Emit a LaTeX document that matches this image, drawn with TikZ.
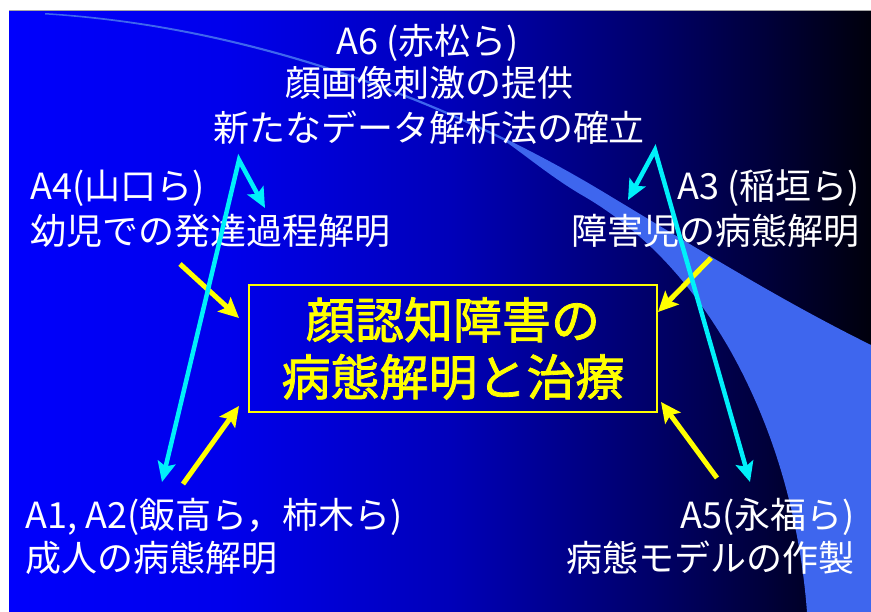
\documentclass[tikz,border=0pt]{standalone}
\usepackage{fontspec}
\setmainfont{Noto Sans CJK JP}
\newfontfamily\jpmed[FakeBold=1.6]{Noto Sans CJK JP}
\usetikzlibrary{arrows.meta,calc}
\definecolor{bg0}{RGB}{0,0,252}
\definecolor{bg1}{RGB}{0,0,235}
\definecolor{bg2}{RGB}{0,0,185}
\definecolor{bg3}{RGB}{0,0,105}
\definecolor{bg4}{RGB}{0,0,60}
\definecolor{bg5}{RGB}{0,0,12}
\definecolor{swooshc}{RGB}{62,102,238}
\definecolor{cyanc}{RGB}{0,240,250}
\definecolor{yellowc}{RGB}{255,255,0}
\pgfdeclarehorizontalshading{bgshade}{100bp}{color(0bp)=(bg0); color(25bp)=(bg0); color(37.8bp)=(bg1); color(50.6bp)=(bg2); color(62.2bp)=(bg3); color(68.6bp)=(bg4); color(75bp)=(bg5); color(100bp)=(bg5)}
\begin{document}
\begin{tikzpicture}[x=1pt,y=-1pt,
  txt/.style={text=white, inner sep=0pt, font=\fontsize{36}{44}\selectfont},
  yarrow/.style={draw=yellowc, line width=5pt, -{Stealth[length=20pt,width=19pt,inset=4pt]}},
  carrow/.style={draw=cyanc, line width=4.5pt, line join=miter,
    {Stealth[length=20pt,width=18pt,inset=4pt]}-{Stealth[length=20pt,width=18pt,inset=4pt]}},
  centerbox/.style={draw=yellowc, line width=1.5pt, minimum width=408pt, minimum height=127pt,
    text=yellowc, align=center, inner sep=0pt, font=\jpmed\fontsize{49}{57}\selectfont}]
\useasboundingbox (0,0) rectangle (871,612);
\fill[white] (0,0) rectangle (871,612);
\shade[shading=bgshade] (9,11) rectangle (871,612);
% swoosh
\fill[swooshc] (45,13) .. controls (250,25) and (450,100) .. (600,190)
  .. controls (700,250) and (780,300) .. (871,345)
  -- (871,612) -- (807,612)
  .. controls (800,520) and (775,430) .. (730,350)
  .. controls (690,280) and (640,228) .. (580,194)
  .. controls (550,176) and (525,155) .. (504,140.5)
  .. controls (370,75) and (209,24.8) .. (45,14.5) -- cycle;
\draw[gray!70, line width=1pt] (9,11) -- (871,11);
% center box
\node[centerbox] (box) at (453,348.5) {顔認知障害の\\病態解明と治療};
% text blocks
\node[txt, anchor=base] (a6a) at (428,55) {A6 (赤松ら)};
\node[txt, anchor=base] (a6b) at (429,97) {顔画像刺激の提供};
\node[txt, anchor=base] (a6c) at (429,142) {新たなデータ解析法の確立};
\node[txt, anchor=base west] (a4a) at (30,200) {A4(山口ら)};
\node[txt, anchor=base west] (a4b) at (30,245) {幼児での発達過程解明};
\node[txt, anchor=base east] (a3a) at (860,200) {A3 (稲垣ら)};
\node[txt, anchor=base east] (a3b) at (860,245) {障害児の病態解明};
\node[txt, anchor=base west] (a1a) at (25,529) {A1, A2(飯高ら，柿木ら)};
\node[txt, anchor=base west] (a1b) at (25,571) {成人の病態解明};
\node[txt, anchor=base east] (a5a) at (855,529) {A5(永福ら)};
\node[txt, anchor=base east] (a5b) at (855,571) {病態モデルの作製};
% yellow arrows
\coordinate (y1s) at (180,264); \coordinate (y1e) at (239,318);
\coordinate (y2s) at (183,484); \coordinate (y2e) at (239,406);
\coordinate (y3s) at (711,258); \coordinate (y3e) at (658,312);
\coordinate (y4s) at (717,478); \coordinate (y4e) at (661,402);
\draw[yarrow] (y1s) -- (y1e);
\draw[yarrow] (y2s) -- (y2e);
\draw[yarrow] (y3s) -- (y3e);
\draw[yarrow] (y4s) -- (y4e);
% cyan arrows
\coordinate (cl1) at (162,482); \coordinate (cl2) at (239,160); \coordinate (cl3) at (265,208);
\coordinate (cr1) at (628,200); \coordinate (cr2) at (655,150); \coordinate (cr3) at (750,482);
\draw[carrow] (cl1) -- (cl2) -- (cl3);
\draw[carrow] (cr1) -- (cr2) -- (cr3);
\end{tikzpicture}
\end{document}
